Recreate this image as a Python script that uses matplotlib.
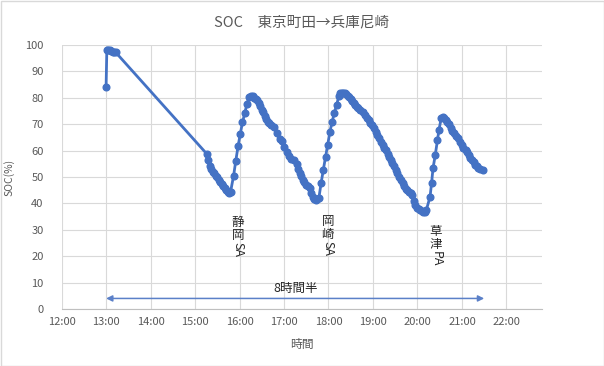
import matplotlib
matplotlib.use("Agg")
import matplotlib.pyplot as plt
from matplotlib.transforms import offset_copy
from matplotlib.patches import Rectangle

plt.rcParams['font.family'] = ['Noto Sans CJK JP', 'DejaVu Sans']

title = "SOC　東京町田→兵庫尼崎"
x_label = "時間"
y_label = "SOC(%)"

times = [
    "13:00", "13:01", "13:03", "13:05", "13:07", "13:09", "13:11", "13:13",
    "15:16", "15:18", "15:20", "15:22", "15:24", "15:26", "15:28", "15:30",
    "15:32", "15:34", "15:36", "15:38", "15:40", "15:42", "15:44", "15:46", "15:48",
    "15:52", "15:55", "15:58", "16:01", "16:04", "16:07", "16:10", "16:13",
    "16:16", "16:18", "16:20", "16:22", "16:24", "16:26", "16:28", "16:30",
    "16:32", "16:34", "16:36", "16:38", "16:40", "16:43", "16:46", "16:50",
    "16:54", "16:57", "17:00", "17:04", "17:07", "17:10", "17:14", "17:17",
    "17:19", "17:21", "17:23", "17:25", "17:27", "17:29", "17:32", "17:35",
    "17:37", "17:39", "17:41", "17:43", "17:45", "17:47",
    "17:50", "17:53", "17:56", "17:59", "18:02", "18:05", "18:08", "18:11",
    "18:14", "18:16", "18:18", "18:20", "18:22", "18:24", "18:26", "18:28",
    "18:30", "18:32", "18:34", "18:36", "18:38", "18:40", "18:43", "18:46",
    "18:49", "18:52", "18:54", "18:56", "18:59", "19:01", "19:04", "19:06",
    "19:08", "19:11", "19:13", "19:15", "19:17", "19:20", "19:22", "19:24",
    "19:26", "19:29", "19:31", "19:33", "19:35", "19:38", "19:40", "19:42",
    "19:44", "19:46", "19:48", "19:51", "19:53", "19:55", "19:57", "20:00",
    "20:02", "20:04", "20:06", "20:08", "20:10", "20:12",
    "20:17", "20:19", "20:21", "20:24", "20:27", "20:29", "20:32", "20:34",
    "20:36", "20:38", "20:40", "20:42", "20:45", "20:47", "20:49", "20:52",
    "20:55", "20:58", "21:00", "21:02", "21:05", "21:07", "21:09", "21:11",
    "21:14", "21:16", "21:18", "21:20", "21:22", "21:25", "21:28",
]
soc = [
    84, 98, 98, 98, 97.8, 97.5, 97.3, 97.2,
    58.7, 56.4, 54, 53, 52, 51.5, 50.5, 50,
    49, 48, 47.5, 46.5, 46, 45, 44.5, 44, 44.5,
    50.5, 56.2, 61.6, 66.3, 70.7, 74.1, 77.6, 80.4,
    80.7, 80.5, 80, 79.5, 79, 78, 77, 75.5,
    74.5, 73, 72, 71, 70.5, 69.7, 69, 66.5,
    64.5, 63.5, 61.5, 59.6, 58, 57, 56.6, 55,
    53, 51.5, 50.5, 49, 48, 47, 46.5, 45.8,
    44, 42.5, 41.5, 41.3, 41.5, 42,
    47.6, 52.7, 57.5, 62.1, 67.2, 71, 74.4, 77.3,
    80.7, 81.7, 82, 82, 81.7, 81.3, 80.8, 80.3,
    79.5, 78.8, 78, 77.3, 76.5, 76, 75.4, 74.5,
    73.5, 72.5, 71.6, 70.5, 69.7, 68.5, 67.2, 65.8,
    64.6, 63.3, 62.1, 61, 60.2, 58.8, 57.7, 56.5,
    55.2, 54, 52.7, 51.5, 50.1, 48.8, 47.6, 46.5,
    45.6, 45, 44.4, 43.8, 43.2, 41, 39.5, 38.1,
    37.7, 37.5, 37.2, 36.9, 36.8, 37.5,
    42.5, 47.6, 53.3, 58.3, 64, 67.8, 72.2, 72.9,
    72.3, 71.5, 71, 70, 68.4, 67.5, 66.5, 65.5,
    64.6, 63.3, 62.1, 61, 60.2, 59.3, 58.3, 57.3,
    56.4, 55.5, 54.5, 54, 53.5, 53, 52.7,
]

x_ticks = ["12:00", "13:00", "14:00", "15:00", "16:00", "17:00",
           "18:00", "19:00", "20:00", "21:00", "22:00"]
y_ticks = [0, 10, 20, 30, 40, 50, 60, 70, 80, 90, 100]

# stop annotations: (label, time, SOC of first character centre)
stops = [("静岡SA", "15:58", 32.8), ("岡崎SA", "17:59", 33.3), ("草津PA", "20:25", 29.4)]
span_label = "8時間半"
span_start, span_end, span_level = "13:00", "21:30", 4.0
span_text_time, span_text_level = "17:16", 7.6


def to_h(t):
    h, m = t.split(":")
    return int(h) + int(m) / 60.0


xs = [to_h(t) for t in times]

fig = plt.figure(figsize=(6.04, 3.66), dpi=100)
ax = fig.add_axes([61.6 / 604, 1 - 309 / 366, (542 - 61.6) / 604, (309 - 45) / 366])

blue = "#4472C4"
ax.plot(xs, soc, color=blue, lw=2.0, marker="o", ms=4.8, mec=blue, mfc=blue, zorder=3)

ax.set_xlim(12, 22.8)
ax.set_ylim(0, 100)
ax.set_xticks([to_h(t) for t in x_ticks])
ax.set_xticklabels(x_ticks)
ax.set_yticks(y_ticks)
ax.grid(True, color="#d9d9d9", lw=0.8)
ax.set_axisbelow(True)
for s in ["top", "right", "left"]:
    ax.spines[s].set_visible(False)
ax.spines["bottom"].set_color("#bfbfbf")
ax.tick_params(axis="both", length=0, colors="#595959", labelsize=8)
ax.tick_params(axis="y", pad=13)
ax.tick_params(axis="x", pad=6)

ax.set_xlabel(x_label, color="#595959", fontsize=8.5, labelpad=8)
ax.set_ylabel(y_label, color="#595959", fontsize=7.5, labelpad=8)
fig.text(0.5, 1 - 22 / 366, title, ha="center", va="center", color="#595959", fontsize=10.5)

# vertical stop labels
fs = 9
step = 13.0
for label, t, lvl in stops:
    x = to_h(t)
    cursor = 0.0
    i = 0
    while i < len(label):
        ch = label[i]
        if ord(ch) > 0x2E80:
            tr = offset_copy(ax.transData, fig=fig, x=0, y=-cursor, units="dots")
            ax.text(x, lvl, ch, transform=tr, ha="center", va="center", fontsize=fs, color="#262626")
            cursor += step
            i += 1
        else:
            j = i
            while j < len(label) and ord(label[j]) <= 0x2E80:
                j += 1
            run = label[i:j]
            tr = offset_copy(ax.transData, fig=fig, x=0, y=-(cursor - step / 2 + 0.5), units="dots")
            ax.text(x, lvl, run, transform=tr, ha="center", va="top", rotation=-90,
                    fontsize=fs, color="#262626")
            i = j

ax.annotate("", xy=(to_h(span_end), span_level), xytext=(to_h(span_start), span_level),
            arrowprops=dict(arrowstyle="<|-|>", color="#5b80c8", lw=1.1, mutation_scale=9,
                            shrinkA=0, shrinkB=0))
ax.text(to_h(span_text_time), span_text_level, span_label, ha="center", va="center",
        fontsize=fs, color="#262626")

fig.patches.append(Rectangle((0.5 / 604, 0.5 / 366), 603 / 604, 365 / 366, transform=fig.transFigure,
                             fill=False, edgecolor="#d9d9d9", lw=1))

fig.savefig("out.png", dpi=100)
